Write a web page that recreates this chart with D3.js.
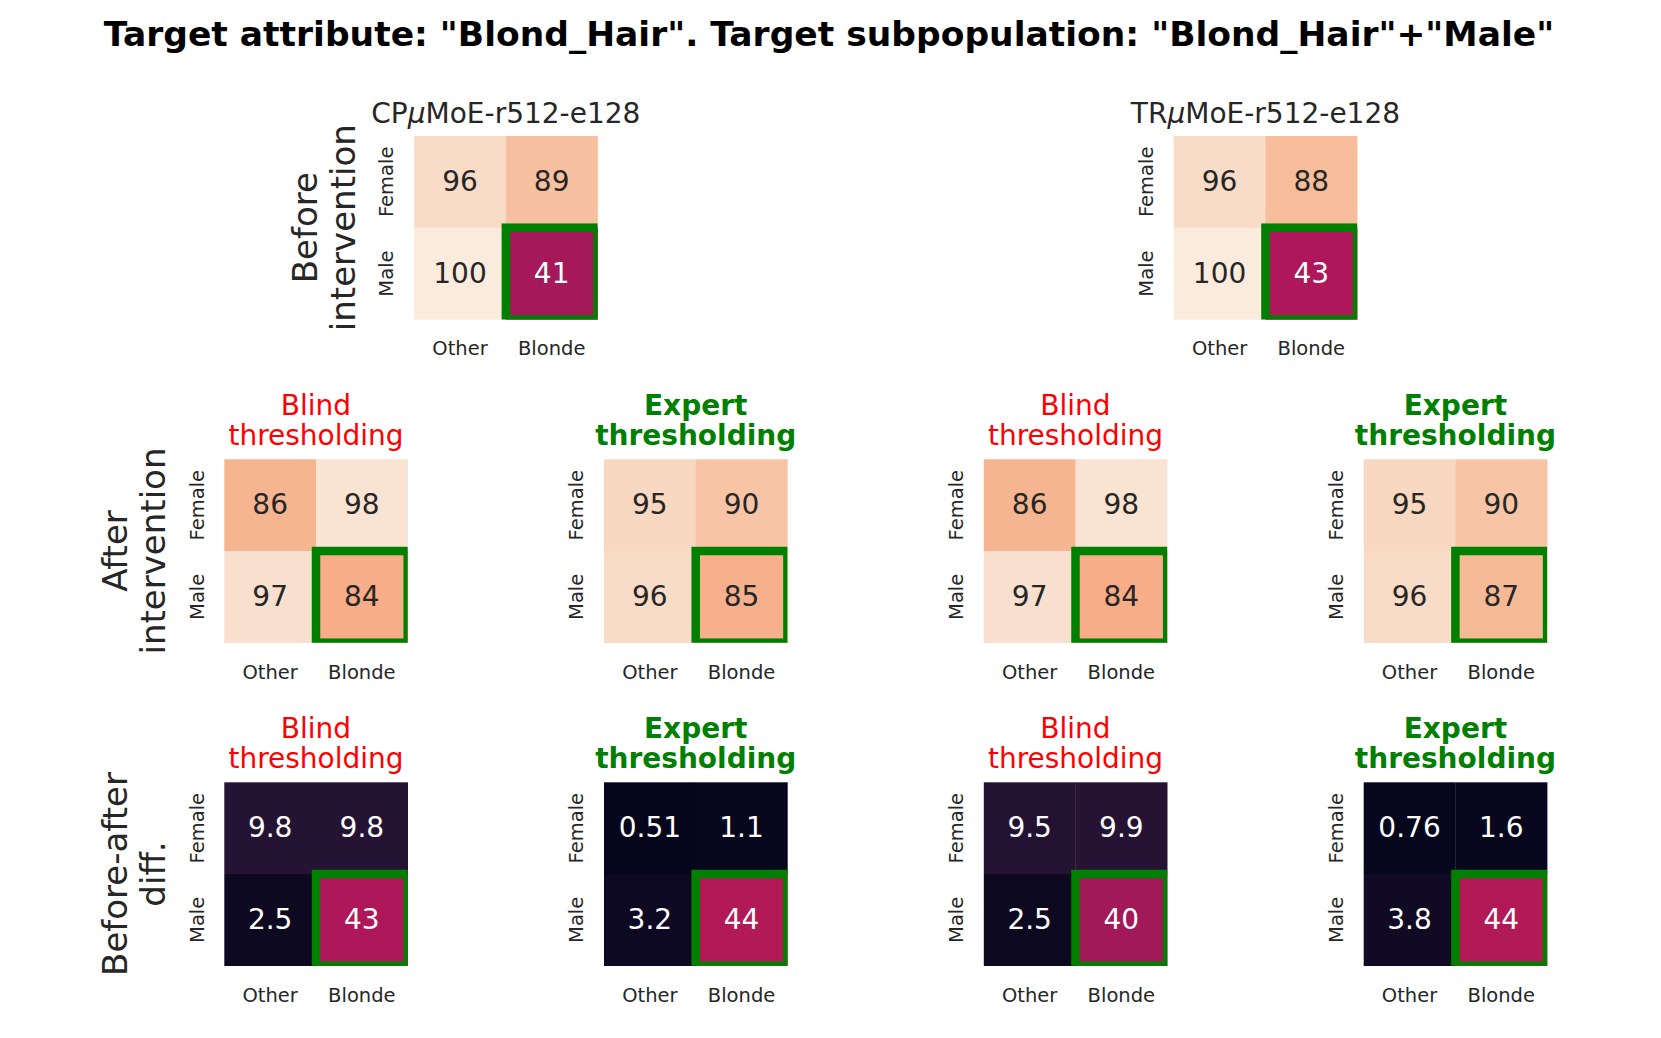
<!DOCTYPE html>
<html>
<head>
<meta charset="utf-8">
<script src="https://cdn.jsdelivr.net/npm/d3@7"></script>
<style>
  body { margin: 0; background: #fff; }
  text { font-family: "DejaVu Sans", sans-serif; }
</style>
</head>
<body>
<div id="chart"></div>
<script>
const W = 1661, H = 1038;

// categories
const xCats = ["Other", "Blonde"];
const yCats = ["Female", "Male"];
const models = ["CP", "TR"];
const methods = ["Blind\nthresholding", "Expert\nthresholding"];
const rowLabels = ["Before\nintervention", "After\nintervention", "Before-after\ndiff."];

// values [Female row, Male row] x [Other, Blonde]
const beforeCP = [[96, 89], [100, 41]];
const beforeTR = [[96, 88], [100, 43]];
const afterCPBlind = [[86, 98], [97, 84]];
const afterCPExpert = [[95, 90], [96, 85]];
const afterTRBlind = [[86, 98], [97, 84]];
const afterTRExpert = [[95, 90], [96, 87]];
const diffCPBlind = [[9.8, 9.8], [2.5, 43]];
const diffCPExpert = [[0.51, 1.1], [3.2, 44]];
const diffTRBlind = [[9.5, 9.9], [2.5, 40]];
const diffTRExpert = [[0.76, 1.6], [3.8, 44]];

// rocket-like colormap, 0..100
const rocketStops = ["#03051a", "#35193e", "#701f57", "#ad1759", "#e13342", "#f37651", "#f6b48f", "#faebdd"];
const rocketPos = [0, 1/7, 2/7, 3/7, 4/7, 5/7, 6/7, 1];
const color = d3.scaleLinear()
  .domain(rocketPos.map(p => p * 100))
  .range(rocketStops)
  .interpolate(d3.interpolateRgb)
  .clamp(true);

const S = 183.4;            // heatmap size
const colLeft = [224.3, 604, 983.8, 1363.7];
const rowTop = [136, 459.3, 782.3];

const svg = d3.select("#chart").append("svg")
  .attr("width", W).attr("height", H);

svg.append("text")
  .attr("x", 829).attr("y", 46)
  .attr("text-anchor", "middle")
  .style("font-size", "34.5px").style("font-weight", "bold")
  .style("fill", "#000")
  .text('Target attribute: "Blond_Hair". Target subpopulation: "Blond_Hair"+"Male"');

let clipId = 0;

function heatmap(left, top, data, opts) {
  const g = svg.append("g").attr("transform", `translate(${left},${top})`);
  const x = d3.scaleBand().domain(xCats).range([0, S]);
  const y = d3.scaleBand().domain(yCats).range([0, S]);

  const cells = [];
  data.forEach((row, i) => row.forEach((v, j) => cells.push({ r: yCats[i], c: xCats[j], v: v })));

  g.selectAll("rect.cell")
    .data(cells)
    .join("rect")
    .attr("class", "cell")
    .attr("x", d => x(d.c))
    .attr("y", d => y(d.r))
    .attr("width", x.bandwidth() + 0.3)
    .attr("height", y.bandwidth() + 0.3)
    .attr("fill", d => color(d.v));

  g.selectAll("text.ann")
    .data(cells)
    .join("text")
    .attr("class", "ann")
    .attr("x", d => x(d.c) + x.bandwidth() / 2)
    .attr("y", d => y(d.r) + y.bandwidth() / 2)
    .attr("dy", "0.33em")
    .attr("text-anchor", "middle")
    .style("font-size", "28px")
    .style("fill", d => d3.lab(color(d.v)).l > 62 ? "#262626" : "#ffffff")
    .text(d => d.v);

  // highlight the target cell (Male, Blonde)
  const id = "clip" + (clipId++);
  g.append("clipPath").attr("id", id)
    .append("rect").attr("width", S).attr("height", S);
  g.append("rect")
    .attr("clip-path", `url(#${id})`)
    .attr("x", x("Blonde")).attr("y", y("Male"))
    .attr("width", x.bandwidth()).attr("height", y.bandwidth())
    .attr("fill", "none")
    .attr("stroke", "#008000")
    .attr("stroke-width", 8.5);

  // x axis
  const xa = g.append("g")
    .attr("transform", `translate(0,${S})`)
    .call(d3.axisBottom(x).tickSize(0).tickPadding(22));
  xa.select(".domain").remove();
  xa.selectAll("text")
    .style("font-size", "19.5px")
    .style("font-family", "DejaVu Sans")
    .style("fill", "#262626");

  // y axis, rotated labels
  const ya = g.append("g").call(d3.axisLeft(y).tickSize(0));
  ya.select(".domain").remove();
  ya.selectAll("text")
    .attr("x", 0).attr("dy", 0)
    .attr("transform", "translate(-20.7,0) rotate(-90)")
    .attr("text-anchor", "middle")
    .style("font-size", "19.5px")
    .style("font-family", "DejaVu Sans")
    .style("fill", "#262626");

  // title above panel
  if (opts.title) {
    const lines = opts.title.split("\n");
    const t = g.append("text")
      .attr("text-anchor", "middle")
      .style("font-size", "28px")
      .style("fill", opts.titleColor)
      .style("font-weight", opts.bold ? "bold" : "normal");
    lines.forEach((ln, k) => {
      t.append("tspan")
        .attr("x", S / 2)
        .attr("y", -14.3 - (lines.length - 1 - k) * 30.5)
        .text(ln);
    });
  }
  if (opts.model) {
    const t = g.append("text")
      .attr("x", S / 2).attr("y", -13)
      .attr("text-anchor", "middle")
      .style("font-size", "28px")
      .style("fill", "#262626");
    t.append("tspan").text(opts.model);
    t.append("tspan").style("font-style", "italic").text("\u03bc");
    t.append("tspan").text("MoE-r512-e128");
  }
  if (opts.rowLabel) {
    const lines = opts.rowLabel.split("\n");
    const t = g.append("text")
      .attr("transform", `translate(0,${S / 2}) rotate(-90)`)
      .attr("text-anchor", "middle")
      .style("font-size", "34px")
      .style("fill", "#262626");
    lines.forEach((ln, k) => {
      t.append("tspan")
        .attr("x", 0)
        .attr("y", -97.5 + k * 38.5)
        .text(ln);
    });
  }
}

// row 1: before intervention
heatmap((colLeft[0] + colLeft[1]) / 2, rowTop[0], beforeCP, { model: models[0], rowLabel: rowLabels[0] });
heatmap((colLeft[2] + colLeft[3]) / 2, rowTop[0], beforeTR, { model: models[1] });

// rows 2 and 3: after intervention, and the before-after difference
const afterData = [afterCPBlind, afterCPExpert, afterTRBlind, afterTRExpert];
const diffData = [diffCPBlind, diffCPExpert, diffTRBlind, diffTRExpert];
afterData.forEach((d, i) => {
  heatmap(colLeft[i], rowTop[1], d, {
    title: methods[i % 2],
    titleColor: i % 2 === 0 ? "#ff0000" : "#008000",
    bold: i % 2 === 1,
    rowLabel: i === 0 ? rowLabels[1] : null
  });
});
diffData.forEach((d, i) => {
  heatmap(colLeft[i], rowTop[2], d, {
    title: methods[i % 2],
    titleColor: i % 2 === 0 ? "#ff0000" : "#008000",
    bold: i % 2 === 1,
    rowLabel: i === 0 ? rowLabels[2] : null
  });
});
</script>
</body>
</html>
